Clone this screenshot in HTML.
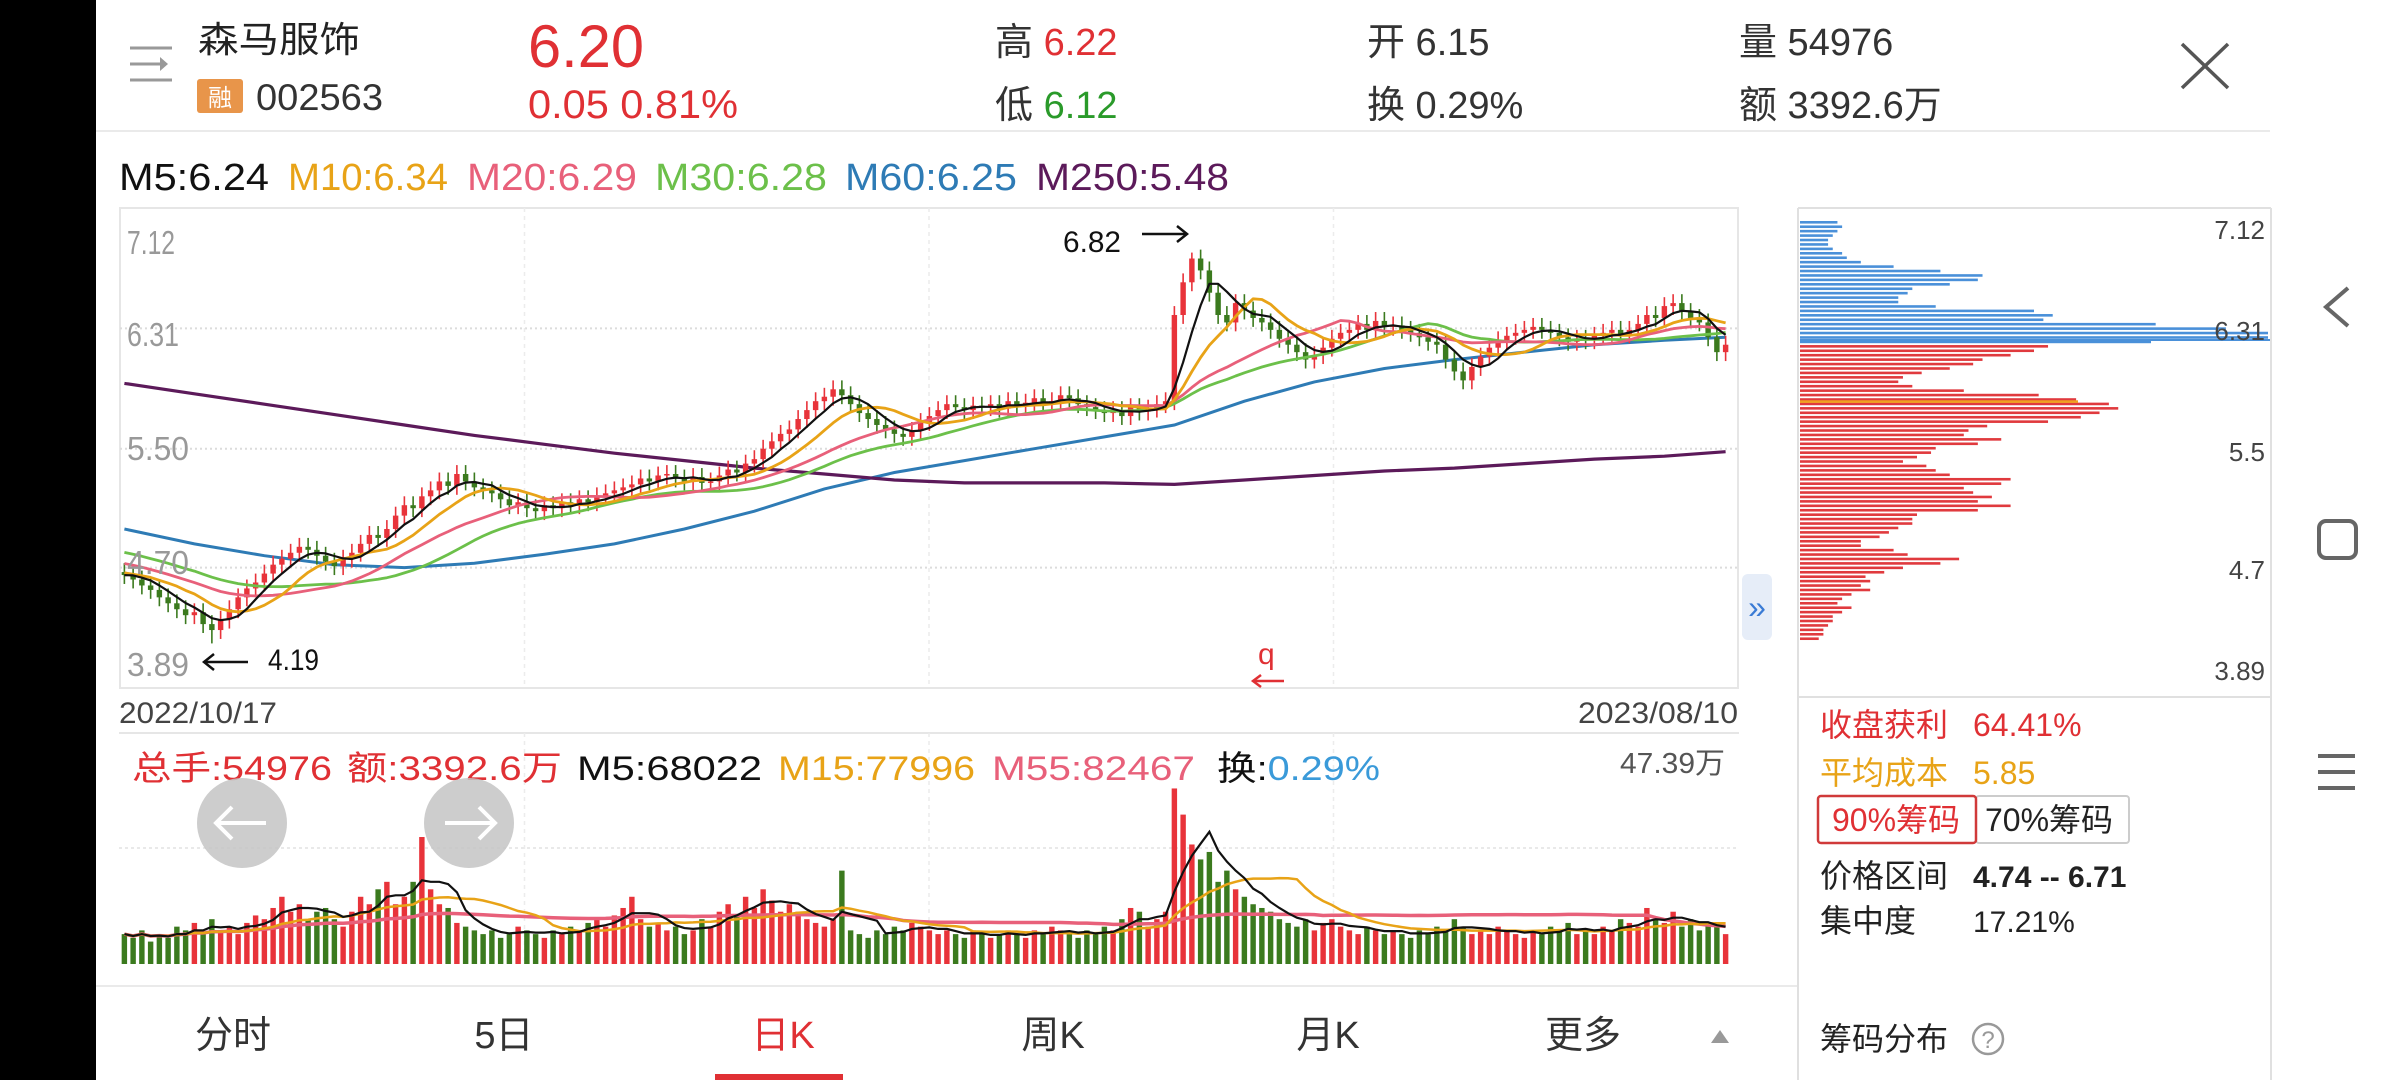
<!DOCTYPE html>
<html><head><meta charset="utf-8"><style>
html,body{margin:0;padding:0;background:#fff;}
svg{display:block;font-family:"Liberation Sans","Noto Sans CJK SC",sans-serif;}
</style></head><body>
<svg id="root" xmlns="http://www.w3.org/2000/svg" width="2400" height="1080" viewBox="0 0 2400 1080">
<rect x="0" y="0" width="2400" height="1080" fill="#fff"/>
<rect x="0" y="0" width="96" height="1080" fill="#000"/>

<!-- header -->
<g stroke="#999" stroke-width="3" fill="none">
<line x1="130" y1="48" x2="172" y2="48"/><line x1="130" y1="64" x2="160" y2="64"/><path d="M160 57 L168 64 L160 71" fill="#999" stroke="none"/><line x1="130" y1="80" x2="172" y2="80"/>
</g>
<text x="198" y="52" font-size="36" fill="#222" textLength="162" lengthAdjust="spacingAndGlyphs">森马服饰</text>
<rect x="197" y="79" width="46" height="34" rx="3" fill="#e8954a"/>
<text x="220" y="106" font-size="24" fill="#fff" text-anchor="middle">融</text>
<text x="256" y="110" font-size="37" fill="#333" textLength="127" lengthAdjust="spacingAndGlyphs">002563</text>
<text x="528" y="67" font-size="60" fill="#e03034" textLength="116" lengthAdjust="spacingAndGlyphs">6.20</text>
<text x="528" y="118" font-size="40" fill="#e03034" textLength="210" lengthAdjust="spacingAndGlyphs">0.05  0.81%</text>
<text x="995" y="55" font-size="38" fill="#333">高 <tspan fill="#e03034">6.22</tspan></text>
<text x="995" y="118" font-size="38" fill="#333">低 <tspan fill="#2a9a2a">6.12</tspan></text>
<text x="1367" y="55" font-size="38" fill="#333">开 6.15</text>
<text x="1367" y="118" font-size="38" fill="#333">换 0.29%</text>
<text x="1739" y="55" font-size="38" fill="#333">量 54976</text>
<text x="1739" y="118" font-size="38" fill="#333">额 3392.6万</text>
<g stroke="#555" stroke-width="3.5"><line x1="2182" y1="44" x2="2228" y2="88"/><line x1="2228" y1="44" x2="2182" y2="88"/></g>
<line x1="96" y1="131" x2="2270" y2="131" stroke="#eaeaea" stroke-width="2"/>

<!-- MA legend -->
<g font-size="38">
<text x="119" y="190" fill="#111" textLength="150" lengthAdjust="spacingAndGlyphs">M5:6.24</text>
<text x="288" y="190" fill="#e8a317" textLength="160" lengthAdjust="spacingAndGlyphs">M10:6.34</text>
<text x="467" y="190" fill="#e8607a" textLength="170" lengthAdjust="spacingAndGlyphs">M20:6.29</text>
<text x="655" y="190" fill="#6cc04a" textLength="172" lengthAdjust="spacingAndGlyphs">M30:6.28</text>
<text x="845" y="190" fill="#2e7bb5" textLength="172" lengthAdjust="spacingAndGlyphs">M60:6.25</text>
<text x="1036" y="190" fill="#5c1a5a" textLength="193" lengthAdjust="spacingAndGlyphs">M250:5.48</text>
</g>

<!-- main chart frame -->
<rect x="120" y="208" width="1618" height="480" fill="none" stroke="#e6e6e6" stroke-width="2"/>
<g id="grid"></g>
<g id="ma250"></g>
<g id="candles"></g>
<g id="malines"></g>
<g font-size="33" fill="#999">
<text x="127" y="254" textLength="48" lengthAdjust="spacingAndGlyphs">7.12</text>
<text x="127" y="346" textLength="52" lengthAdjust="spacingAndGlyphs">6.31</text>
<text x="127" y="460" textLength="62" lengthAdjust="spacingAndGlyphs">5.50</text>
<text x="127" y="574" textLength="62" lengthAdjust="spacingAndGlyphs">4.70</text>
<text x="127" y="676" textLength="62" lengthAdjust="spacingAndGlyphs">3.89</text>
</g>
<text x="1063" y="252" font-size="30" fill="#111" textLength="58" lengthAdjust="spacingAndGlyphs">6.82</text>
<g stroke="#111" stroke-width="2.5" fill="none"><line x1="1142" y1="234" x2="1187" y2="234"/><path d="M1177 226 L1187 234 L1177 242"/></g>
<text x="268" y="670" font-size="30" fill="#111" textLength="51" lengthAdjust="spacingAndGlyphs">4.19</text>
<g stroke="#111" stroke-width="2.5" fill="none"><line x1="204" y1="662" x2="248" y2="662"/><path d="M214 654 L204 662 L214 670"/></g>
<text x="1258" y="664" font-size="30" fill="#e03034">q</text>
<g stroke="#e03034" stroke-width="2.5" fill="none"><line x1="1253" y1="681" x2="1284" y2="681"/><path d="M1261 675 L1253 681 L1261 687"/></g>
<g><rect x="1742" y="574" width="30" height="66" rx="6" fill="#e6edf8"/><text x="1757" y="618" font-size="32" fill="#3a7bd5" text-anchor="middle">»</text></g>

<text x="119" y="723" font-size="30" fill="#444" textLength="158" lengthAdjust="spacingAndGlyphs">2022/10/17</text>
<text x="1738" y="723" font-size="30" fill="#444" text-anchor="end" textLength="160" lengthAdjust="spacingAndGlyphs">2023/08/10</text>

<!-- volume -->
<line x1="119" y1="733" x2="1739" y2="733" stroke="#e6e6e6" stroke-width="2"/>
<line x1="119" y1="848" x2="1739" y2="848" stroke="#e2e2e2" stroke-width="1.5" stroke-dasharray="3,3"/>
<g id="vgrid"></g>
<g id="volbars"></g>
<g id="vollines"></g>
<g font-size="34">
<text x="132" y="780" fill="#e03034" textLength="200" lengthAdjust="spacingAndGlyphs">总手:54976</text>
<text x="347" y="780" fill="#e03034" textLength="215" lengthAdjust="spacingAndGlyphs">额:3392.6万</text>
<text x="577" y="780" fill="#111" textLength="185" lengthAdjust="spacingAndGlyphs">M5:68022</text>
<text x="778" y="780" fill="#e8a317" textLength="197" lengthAdjust="spacingAndGlyphs">M15:77996</text>
<text x="992" y="780" fill="#e8607a" textLength="203" lengthAdjust="spacingAndGlyphs">M55:82467</text>
<text x="1217" y="780" fill="#111" textLength="163" lengthAdjust="spacingAndGlyphs">换:<tspan fill="#3a9ad9">0.29%</tspan></text>
</g>
<text x="1725" y="773" font-size="29" fill="#555" text-anchor="end" textLength="105" lengthAdjust="spacingAndGlyphs">47.39万</text>
<g><ellipse cx="242" cy="823" rx="45" ry="45" fill="#c4c4c4" opacity="0.85"/><path d="M218 823 H266 M232 807 L216 823 L232 839" stroke="#fff" stroke-width="4" fill="none"/></g>
<g><ellipse cx="469" cy="823" rx="45" ry="45" fill="#c4c4c4" opacity="0.85"/><path d="M445 823 H493 M479 807 L495 823 L479 839" stroke="#fff" stroke-width="4" fill="none"/></g>
<line x1="96" y1="986" x2="1798" y2="986" stroke="#eaeaea" stroke-width="2"/>

<!-- tabs -->
<g font-size="38" text-anchor="middle" fill="#333">
<text x="233" y="1048">分时</text>
<text x="504" y="1048">5日</text>
<text x="783" y="1048" fill="#e03034">日K</text>
<text x="1053" y="1048">周K</text>
<text x="1328" y="1048">月K</text>
<text x="1583" y="1048">更多</text>
</g>
<path d="M1711 1043 L1720 1030 L1729 1043 Z" fill="#999"/>
<rect x="715" y="1074" width="128" height="6" fill="#e03034"/>

<!-- right panel -->
<line x1="1798" y1="208" x2="1798" y2="1080" stroke="#e0e0e0" stroke-width="2"/>
<line x1="2271" y1="208" x2="2271" y2="1080" stroke="#e0e0e0" stroke-width="2"/>
<line x1="1798" y1="208" x2="2271" y2="208" stroke="#e0e0e0" stroke-width="2"/>
<line x1="1798" y1="697" x2="2271" y2="697" stroke="#e0e0e0" stroke-width="2"/>
<g id="chips"></g>
<g font-size="26" fill="#444" text-anchor="end">
<text x="2265" y="239">7.12</text>
<text x="2265" y="340">6.31</text>
<text x="2265" y="461">5.5</text>
<text x="2265" y="579">4.7</text>
<text x="2265" y="680">3.89</text>
</g>
<g font-size="32">
<text x="1820" y="736" fill="#e03034">收盘获利</text>
<text x="1973" y="736" fill="#e03034">64.41%</text>
<text x="1820" y="784" fill="#e8a317">平均成本</text>
<text x="1973" y="784" fill="#e8a317">5.85</text>
<rect x="1976" y="796" width="153" height="47" rx="3" fill="#fff" stroke="#ccc" stroke-width="2"/>
<rect x="1818" y="796" width="158" height="47" rx="3" fill="#fff" stroke="#d03a3a" stroke-width="2.5"/>
<text x="1832" y="831" fill="#e03034">90%筹码</text>
<text x="1985" y="831" fill="#222">70%筹码</text>
<text x="1820" y="887" fill="#222">价格区间</text>
<text x="1973" y="887" fill="#222" font-weight="bold" font-size="30">4.74 -- 6.71</text>
<text x="1820" y="932" fill="#222">集中度</text>
<text x="1973" y="932" fill="#222" font-size="30">17.21%</text>
<text x="1820" y="1050" fill="#222">筹码分布</text>
</g>
<g><circle cx="1988" cy="1039" r="15" fill="none" stroke="#999" stroke-width="2.5"/><text x="1988" y="1048" font-size="24" fill="#999" text-anchor="middle">?</text></g>

<!-- android nav -->
<path d="M2348 288 L2326 307 L2348 326" stroke="#666" stroke-width="4" fill="none"/>
<rect x="2319" y="521" width="37" height="37" rx="7" fill="none" stroke="#666" stroke-width="4"/>
<g stroke="#666" stroke-width="4"><line x1="2318" y1="756" x2="2355" y2="756"/><line x1="2318" y1="772" x2="2355" y2="772"/><line x1="2318" y1="788" x2="2355" y2="788"/></g>
</svg>

<script>
const priorCloses = [5.02,5.00,4.98,5.01,4.97,4.95,4.96,4.92,4.90,4.93,4.89,4.86,4.84,4.86,4.82,4.80,4.78,4.75,4.77,4.73,4.70,4.72,4.68,4.66,4.69,4.65,4.63,4.66,4.64,4.67];
const closes = [4.65,4.62,4.58,4.55,4.50,4.46,4.42,4.38,4.40,4.32,4.28,
4.35,4.42,4.50,4.56,4.60,
4.66,4.72,4.76,4.80,4.84,
4.82,4.78,4.74,4.71,
4.76,4.80,4.86,4.92,4.90,4.96,
5.05,5.12,5.10,5.18,5.22,
5.28,5.25,5.33,
5.28,5.24,5.22,5.20,
5.16,5.12,5.14,5.10,5.08,5.12,
5.10,5.14,5.12,5.16,5.14,
5.18,5.20,5.22,5.24,
5.26,5.30,5.28,5.32,5.33,
5.30,5.28,5.31,5.27,5.28,
5.32,5.36,5.34,5.40,5.43,
5.50,5.55,5.60,5.63,
5.70,5.76,5.82,5.85,5.90,5.86,
5.80,5.74,5.70,5.66,5.63,
5.60,5.58,
5.62,5.68,5.72,5.76,
5.80,5.78,5.76,5.79,5.78,
5.80,5.77,5.82,5.79,5.81,5.84,5.80,5.82,
5.86,5.84,
5.80,5.78,5.76,5.74,5.76,
5.72,5.78,5.75,5.77,5.80,5.82,
6.40,6.62,6.78,
6.70,6.55,6.40,6.35,
6.48,6.43,
6.38,6.35,
6.30,6.24,6.20,6.15,6.10,6.13,
6.18,6.24,6.28,6.30,
6.34,6.30,6.36,6.32,6.33,
6.30,6.28,6.25,6.22,6.20,
6.10,6.02,5.96,
6.05,6.12,6.18,6.23,
6.26,6.28,6.30,6.32,6.30,
6.28,6.25,6.22,6.24,6.23,
6.26,6.28,6.30,6.27,6.30,
6.34,6.40,6.38,6.46,6.48,
6.42,6.38,6.35,
6.25,6.15,6.20];
const lowMark = [10, 4.19];
const highMark = [122, 6.82];
const ma60Days = [0,8,16,24,32,40,48,56,64,72,80,88,96,104,112,120,128,136,144,152,160,168,176,183];
const ma60Values = [4.96,4.86,4.78,4.72,4.70,4.73,4.79,4.86,4.96,5.08,5.23,5.34,5.42,5.50,5.58,5.66,5.82,5.95,6.04,6.10,6.15,6.20,6.23,6.25];
const ma250Values = [5.94,5.87,5.80,5.73,5.66,5.59,5.53,5.47,5.42,5.37,5.33,5.29,5.27,5.27,5.27,5.26,5.29,5.32,5.35,5.37,5.40,5.43,5.45,5.48];
const volumes = [8,7,9,6,8,7,10,9,11,8,12,
9,10,8,11,13,12,15,18,14,16,
12,14,15,12,10,14,18,16,20,22,
16,18,22,34,20,16,15,11,10,9,
8,9,7,8,10,9,8,7,9,8,
10,9,11,12,10,13,15,18,12,10,
11,9,10,8,9,12,10,14,16,13,
18,15,20,17,14,16,14,12,11,10,
12,25,9,8,7,9,8,10,9,11,
10,9,8,9,8,7,9,8,7,8,
9,8,7,9,8,10,9,8,7,9,
8,10,9,12,15,14,10,12,14,
47,40,32,28,30,22,25,20,18,16,
15,14,12,11,10,12,9,
11,12,10,9,8,10,9,8,9,8,
7,9,8,10,9,12,10,8,9,8,
10,9,8,7,9,8,10,9,11,8,
9,8,10,9,12,11,10,15,12,11,
14,10,12,9,11,10,8];
const volMax = 47.39;
const chipLengths = [8,9,8,7,6,6,7,9,10,13,20,30,39,38,32,24,23,21,21,29,50,54,52,76,91,100,100,75,
53,50,45,39,37,32,26,22,21,24,35,51,59,66,68,64,60,53,40,36,35,43,38,29,28,25,22,27,29,32,45,43,35,37,41,38,45,38,25,24,24,21,19,17,13,13,20,23,34,30,22,18,14,15,13,15,11,9,8,11,9,7,7,6,5,5,4];
const chipProfitRows = 28;
const avgCost = 5.85;

const NS = 'http://www.w3.org/2000/svg';
const L = 120, R = 1738, T = 208, B = 688, PMAX = 7.12, PMIN = 3.89;
const N = closes.length;
const step = (R - L - 8) / N;
function xAt(i){ return L + (i + 0.5) * step; }
function yP(p){ return T + (PMAX - p) / (PMAX - PMIN) * (B - T); }
const VB = 964, VT = 787;
function yV(v){ return VB - v / volMax * (VB - VT); }
function mk(tag, attrs, parent){
  const e = document.createElementNS(NS, tag);
  for (const k in attrs) e.setAttribute(k, attrs[k]);
  parent.appendChild(e);
  return e;
}

// grid
const grid = document.getElementById('grid');
[6.31, 5.50, 4.70].forEach(p => {
  const g = mk('line', {x1:L, x2:R, y1:yP(p), y2:yP(p), stroke:'#dcdcdc', 'stroke-width':2, 'stroke-dasharray':'2,3'}, grid);
  
  
});
const vg = document.getElementById('vgrid');
[1,2,3].forEach(k => {
  const x = L + (R - L) * k / 4;
  const g = mk('line', {x1:x, x2:x, y1:T, y2:B, stroke:'#ececec', 'stroke-width':1.5, 'stroke-dasharray':'4,4'}, grid);
  
  
  const g2 = mk('line', {x1:x, x2:x, y1:733, y2:964, stroke:'#ececec', 'stroke-width':1.5, 'stroke-dasharray':'4,4'}, vg);
  
  
});

const UP = '#e8333a', DN = '#3b7a1e';
const opens = closes.map((c, i) => i === 0 ? priorCloses[priorCloses.length - 1] : closes[i - 1]);

// candles
const cg = document.getElementById('candles');
const bw = Math.max(2, step * 0.62);
for (let i = 0; i < N; i++) {
  const o = opens[i], c = closes[i];
  const up = c >= o;
  let hi = Math.max(o, c) + 0.06, lo = Math.min(o, c) - 0.06;
  if (i === lowMark[0]) lo = lowMark[1];
  if (i === highMark[0]) hi = highMark[1];
  const col = up ? UP : DN;
  const w = mk('line', {x1:xAt(i), x2:xAt(i), y1:yP(hi), y2:yP(lo), stroke:col, 'stroke-width':1.6}, cg);
  
  
  const yt = yP(Math.max(o, c)), yb = yP(Math.min(o, c));
  const b = mk('rect', {x:xAt(i) - bw / 2, y:yt, width:bw, height:Math.max(1.5, yb - yt), fill:col}, cg);
  
  
}

// MAs
const all = priorCloses.concat(closes);
function maSeries(n){
  const out = [];
  for (let i = 0; i < N; i++) {
    const end = i + priorCloses.length;
    const start = Math.max(0, end - n + 1);
    let s = 0; for (let k = start; k <= end; k++) s += all[k];
    out.push(s / (end - start + 1));
  }
  return out;
}
function polyPts(vals, yf){ return vals.map((v, i) => xAt(i).toFixed(1) + ',' + yf(v).toFixed(1)).join(' '); }
const mg = document.getElementById('malines');
const maDefs = [[30,'#6cc04a','ma30-line'],[20,'#e8607a','ma20-line'],[10,'#e8a317','ma10-line'],[5,'#111','ma5-line']];
maDefs.forEach(d => {
  const pl = mk('polyline', {points:polyPts(maSeries(d[0]), yP), fill:'none', stroke:d[1], 'stroke-width':d[0] === 5 ? 2.2 : 2.8, 'stroke-linejoin':'round'}, mg);
  
  
});
const ma60Pl = mk('polyline', {points:ma60Days.map((d, k) => xAt(d).toFixed(1) + ',' + yP(ma60Values[k]).toFixed(1)).join(' '), fill:'none', stroke:'#2e7bb5', 'stroke-width':3}, document.getElementById('ma250'));


const ma250Pl = mk('polyline', {points:ma60Days.map((d, k) => xAt(d).toFixed(1) + ',' + yP(ma250Values[k]).toFixed(1)).join(' '), fill:'none', stroke:'#5c1a5a', 'stroke-width':3.2}, document.getElementById('ma250'));



// volume bars
const vb = document.getElementById('volbars');
for (let i = 0; i < N; i++) {
  const col = closes[i] >= opens[i] ? UP : DN;
  const r = mk('rect', {x:xAt(i) - bw / 2, y:yV(volumes[i]), width:bw, height:VB - yV(volumes[i]), fill:col}, vb);
  
  
}
function vma(n){
  const out = [];
  for (let i = 0; i < N; i++) {
    const s0 = Math.max(0, i - n + 1);
    let s = 0; for (let k = s0; k <= i; k++) s += volumes[k];
    out.push(s / (i - s0 + 1));
  }
  return out;
}
const vl = document.getElementById('vollines');
[[55,'#e8607a','vol-m55-line',3.5],[15,'#e8a317','vol-m15-line',2.5],[5,'#111','vol-m5-line',2.2]].forEach(d => {
  const pl = mk('polyline', {points:polyPts(vma(d[0]), yV), fill:'none', stroke:d[1], 'stroke-width':d[3]}, vl);
  
  
});

// chips
const ch = document.getElementById('chips');
const CX = 1800, CW = 468, CT = 221, CS = 4.43;
chipLengths.forEach((v, k) => {
  const r = mk('rect', {x:CX, y:CT + k * CS, width:v / 100 * CW, height:2.6, fill:k < chipProfitRows ? '#4a90d9' : '#e03a3e'}, ch);
  
  
});
const chipY = p => 340 + (6.31 - p) / (6.31 - 4.7) * (579 - 340) - 8;
const al = mk('rect', {x:CX, y:chipY(avgCost), width:278, height:2.6, fill:'#f0a020'}, ch);


const cl = mk('line', {x1:CX, x2:2270, y1:340, y2:340, stroke:'#4a90d9', 'stroke-width':2}, ch);


</script>
</body></html>
